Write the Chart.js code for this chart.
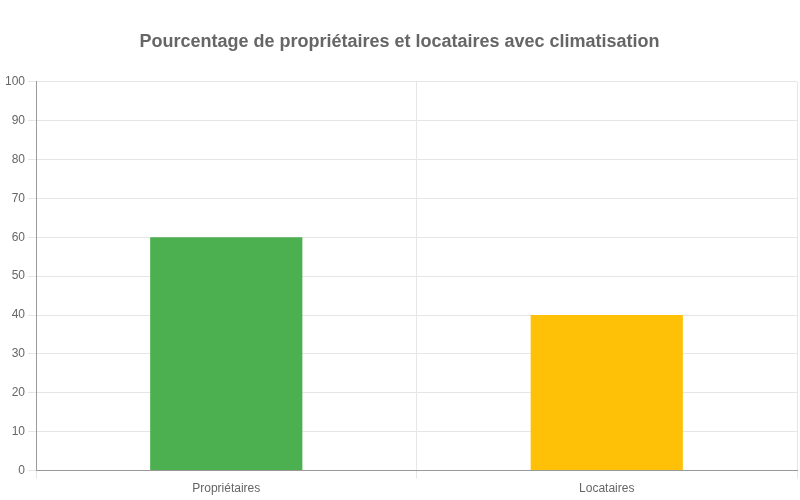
<!DOCTYPE html>
<html>
<head>
<meta charset="utf-8">
<script src="https://cdn.jsdelivr.net/npm/chart.js@4"></script>
<style>
  html, body { margin: 0; padding: 0; background: #fff; }
  #wrap { width: 800px; height: 500px; }
</style>
</head>
<body>
<div id="wrap"><canvas id="myChart" width="800" height="500"></canvas></div>
<script>
const categories = ['Propriétaires', 'Locataires']
const percentages = [60, 40]
const barColors = ['#4caf50', '#ffc107']
const chartTitle = 'Pourcentage de propriétaires et locataires avec climatisation'

Chart.defaults.font.family = '"Liberation Sans", Arial, sans-serif'
Chart.defaults.color = '#666'

const ctx = document.getElementById('myChart').getContext('2d')

new Chart(ctx, {
    type: 'bar',
    data: {
        labels: categories,
        datasets: [{
            label: 'Pourcentage',
            data: percentages,
            backgroundColor: barColors,
            borderWidth: 0,
            barPercentage: 0.5,
            categoryPercentage: 0.8
        }]
    },
    options: {
        responsive: false,
        animation: false,
        layout: {
            padding: { top: 0, left: 2, right: 3, bottom: 1 }
        },
        plugins: {
            legend: { display: false },
            tooltip: { enabled: false },
            title: {
                display: true,
                text: chartTitle,
                color: '#666',
                font: { size: 18, weight: 'bold' },
                padding: { top: 31, bottom: 29 }
            }
        },
        scales: {
            x: {
                grid: { color: '#e6e6e6', tickColor: '#e6e6e6', offset: true },
                border: { color: '#999' },
                ticks: { font: { size: 12 }, color: '#666', padding: 3 }
            },
            y: {
                min: 0,
                max: 100,
                grid: { color: '#e6e6e6', tickColor: '#e6e6e6' },
                border: { color: '#999' },
                ticks: { stepSize: 10, font: { size: 12 }, color: '#666' }
            }
        }
    }
})
</script>
</body>
</html>
